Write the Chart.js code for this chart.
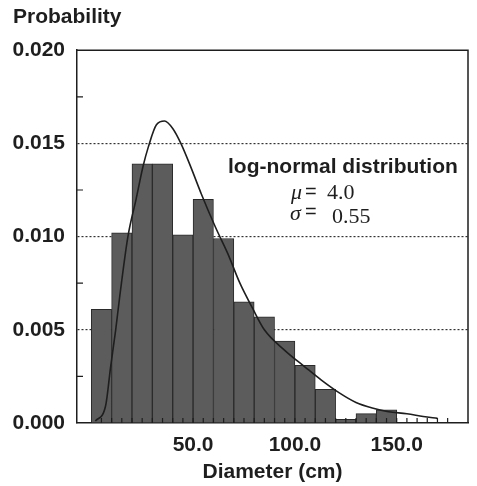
<!DOCTYPE html>
<html>
<head>
<meta charset="utf-8">
<script src="https://cdn.jsdelivr.net/npm/chart.js@4/dist/chart.umd.min.js"></script>
<style>
    html, body { margin: 0; padding: 0; background: #fff; }
</style>
</head>
<body>
<canvas id="diameterChart" width="477" height="486"></canvas>
<script>
// histogram bins (10 cm wide)
const binCentres = [5, 15, 25, 35, 45, 55, 65, 75, 85, 95, 105, 115, 125, 135, 145];
const binProbability = [0.0061, 0.0102, 0.0139, 0.0139, 0.0101, 0.0120, 0.0099, 0.0065,
                        0.0057, 0.0044, 0.0031, 0.0018, 0.0002, 0.0005, 0.0007];

// log-normal curve, points
const curveDiameter = [2, 7, 9.5, 12, 14, 18, 22, 25.5, 28, 32, 36, 40, 44, 49, 54, 61,
                       67, 73, 79, 85, 95, 105, 113, 122, 130, 138, 146, 155, 163, 170];
const curveProbability = [0.0001, 0.0009, 0.0030, 0.0050, 0.0068, 0.0100, 0.0120, 0.0138,
                          0.0148, 0.0160, 0.0162, 0.0158, 0.0150, 0.0137, 0.0123, 0.0105,
                          0.0091, 0.0075, 0.0062, 0.0050, 0.0039, 0.0030, 0.0023, 0.0016,
                          0.0011, 0.0008, 0.0006, 0.0005, 0.00035, 0.00025];

const xTickValues = [50, 100, 150];
const yTickValues = [0, 0.005, 0.010, 0.015, 0.020];
const yMinorTicks = [0.0025, 0.0075, 0.0125, 0.0175];
const xMinorTicks = [5, 10, 15, 20, 25, 30, 35, 40, 45, 50, 55, 60, 65, 70, 75, 80, 85,
                     90, 95, 100, 105, 110, 115, 120, 125, 130, 135, 140, 145, 150, 155,
                     160, 165, 170, 175];

const sansFamily = '"Liberation Sans", Arial, sans-serif';
const ink = '#1e1e1e';

// top/right frame plus the little inward ticks
const framePlugin = {
    id: 'frame',
    afterDatasetsDraw(chart) {
        const ctx = chart.ctx;
        const area = chart.chartArea;
        const xs = chart.scales.x;
        const ys = chart.scales.y;
        ctx.save();
        ctx.strokeStyle = ink;
        ctx.lineWidth = 1.5;
        ctx.beginPath();
        ctx.moveTo(area.left, area.top);
        ctx.lineTo(area.right, area.top);
        ctx.lineTo(area.right, area.bottom);
        ctx.stroke();

        ctx.lineWidth = 1.2;
        ctx.beginPath();
        yMinorTicks.forEach(v => {
            const py = ys.getPixelForValue(v);
            ctx.moveTo(area.left, py);
            ctx.lineTo(area.left + 6, py);
        });
        xMinorTicks.forEach(v => {
            const px = xs.getPixelForValue(v);
            ctx.moveTo(px, area.bottom);
            ctx.lineTo(px, area.bottom - 5);
        });
        ctx.stroke();
        ctx.restore();
    },
    afterDraw(chart) {
        const ctx = chart.ctx;
        const area = chart.chartArea;
        ctx.save();
        ctx.fillStyle = ink;
        ctx.textBaseline = 'alphabetic';
        ctx.font = 'bold 21px ' + sansFamily;
        ctx.fillText('log-normal distribution', area.left + 151, area.top + 123);

        ctx.font = 'italic 22px "Liberation Serif", serif';
        ctx.fillText('\u03bc', area.left + 214, area.top + 149);
        ctx.fillText('\u03c3', area.left + 213, area.top + 170);
        ctx.font = '20px ' + sansFamily;
        ctx.fillText('=', area.left + 228, area.top + 148);
        ctx.fillText('=', area.left + 228, area.top + 168);
        ctx.font = '22px "Liberation Serif", serif';
        ctx.fillText('4.0', area.left + 250, area.top + 149);
        ctx.fillText('0.55', area.left + 255, area.top + 173);
        ctx.restore();
    }
};

const ctx = document.getElementById('diameterChart').getContext('2d');
const chart = new Chart(ctx, {
    type: 'bar',
    data: {
        datasets: [
            {
                type: 'line',
                label: 'log-normal',
                data: curveDiameter.map((d, i) => ({ x: d, y: curveProbability[i] })),
                borderColor: ink,
                borderWidth: 1.6,
                pointRadius: 0,
                cubicInterpolationMode: 'monotone',
                fill: false,
                order: 0
            },
            {
                type: 'bar',
                label: 'observed',
                data: binCentres.map((d, i) => ({ x: d, y: binProbability[i] })),
                backgroundColor: '#5c5c5c',
                borderColor: '#2a2a2a',
                borderWidth: 1,
                barPercentage: 1,
                categoryPercentage: 1,
                order: 1
            }
        ]
    },
    options: {
        responsive: false,
        animation: false,
        layout: {
            padding: { left: 13, right: 9, top: 0, bottom: 0 }
        },
        plugins: {
            legend: { display: false },
            tooltip: { enabled: false },
            title: {
                display: true,
                text: 'Probability',
                align: 'start',
                color: ink,
                font: { family: sansFamily, size: 21, weight: 'bold' },
                padding: { top: 5, bottom: 20 }
            }
        },
        scales: {
            x: {
                type: 'linear',
                min: -7,
                max: 185,
                offset: false,
                afterFit: scale => { scale.height = 63; },
                afterBuildTicks: scale => {
                    scale.ticks = xTickValues.map(v => ({ value: v }));
                },
                ticks: {
                    color: ink,
                    padding: 10,
                    maxRotation: 0,
                    font: { family: sansFamily, size: 21, weight: 'bold' },
                    callback: v => v.toFixed(1)
                },
                grid: { display: false, drawTicks: false },
                border: { color: ink, width: 1.5 },
                title: {
                    display: true,
                    text: 'Diameter (cm)',
                    color: ink,
                    font: { family: sansFamily, size: 21, weight: 'bold' },
                    padding: { top: 0, bottom: 1 }
                }
            },
            y: {
                min: 0,
                max: 0.02,
                afterFit: scale => { scale.width = 64; },
                afterBuildTicks: scale => {
                    scale.ticks = yTickValues.map(v => ({ value: v }));
                },
                ticks: {
                    color: ink,
                    padding: 12,
                    font: { family: sansFamily, size: 21, weight: 'bold' },
                    callback: v => v.toFixed(3)
                },
                grid: {
                    drawTicks: false,
                    lineWidth: 1.2,
                    color: c => (c.tick && c.tick.value > 0.001 && c.tick.value < 0.019) ? '#333' : 'rgba(0,0,0,0)'
                },
                border: { color: ink, width: 1.5, dash: [2, 2] }
            }
        }
    },
    plugins: [framePlugin]
});
</script>
</body>
</html>
